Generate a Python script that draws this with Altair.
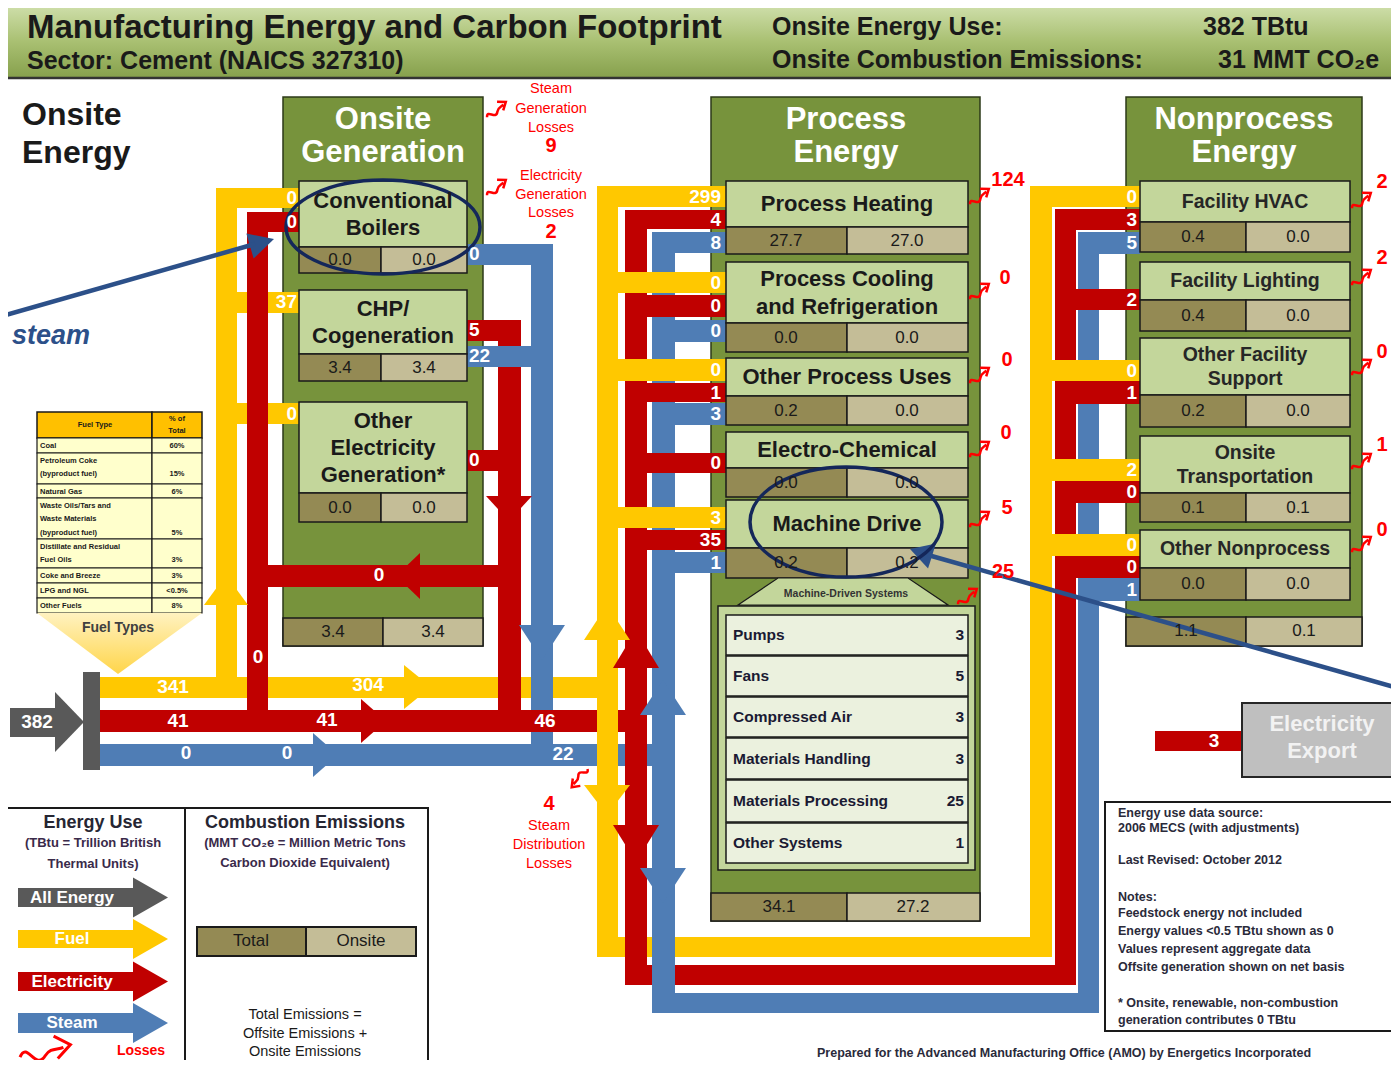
import math
import altair as alt
import pandas as pd

# ------------------------------------------------------------------
# Values
# ------------------------------------------------------------------
title_main = "Manufacturing Energy and Carbon Footprint"
title_sector = "Sector: Cement (NAICS 327310)"
onsite_energy_use = "382 TBtu"
onsite_emissions = "31 MMT CO₂e"

supply_total = 382
fuel_main = [341, 304]
elec_main = [41, 41, 46]
steam_main = [0, 0, 22]

gen_names = [["Conventional", "Boilers"], ["CHP/", "Cogeneration"],
             ["Other", "Electricity", "Generation*"]]
gen_total = ["0.0", "3.4", "0.0"]
gen_onsite = ["0.0", "3.4", "0.0"]
gen_fuel_in = [0, 37, 0]
gen_elec_in = 0
gen_elec_out = [5, 0]
gen_steam_out = [0, 22]
gen_elec_back = 0
gen_elec_side = 0
gen_sum = ["3.4", "3.4"]
steam_gen_loss = 9
elec_gen_loss = 2
steam_dist_loss = 4

proc_names = [["Process Heating"], ["Process Cooling", "and Refrigeration"],
              ["Other Process Uses"], ["Electro-Chemical"], ["Machine Drive"]]
proc_total = ["27.7", "0.0", "0.2", "0.0", "0.2"]
proc_onsite = ["27.0", "0.0", "0.0", "0.0", "0.2"]
proc_loss = [124, 0, 0, 0, 5]
proc_fuel = [299, 0, 0, None, 3]
proc_elec = [4, 0, 1, 0, 35]
proc_steam = [8, 0, 3, None, 1]
proc_sum = ["34.1", "27.2"]

md_names = ["Pumps", "Fans", "Compressed Air", "Materials Handling",
            "Materials Processing", "Other Systems"]
md_values = [3, 5, 3, 3, 25, 1]
md_loss = 25

non_names = [["Facility HVAC"], ["Facility Lighting"], ["Other Facility", "Support"],
             ["Onsite", "Transportation"], ["Other Nonprocess"]]
non_total = ["0.4", "0.4", "0.2", "0.1", "0.0"]
non_onsite = ["0.0", "0.0", "0.0", "0.1", "0.0"]
non_loss = [2, 2, 0, 1, 0]
non_fuel = [0, None, 0, 2, 0]
non_elec = [3, 2, 1, 0, 0]
non_steam = [5, None, None, None, 1]
non_sum = ["1.1", "0.1"]

elec_export = 3

fuel_types = [["Coal"], ["Petroleum Coke", "(byproduct fuel)"], ["Natural Gas"],
              ["Waste Oils/Tars and", "Waste Materials", "(byproduct fuel)"],
              ["Distillate and Residual", "Fuel Oils"], ["Coke and Breeze"],
              ["LPG and NGL"], ["Other Fuels"]]
fuel_shares = ["60%", "15%", "6%", "5%", "3%", "3%", "<0.5%", "8%"]

legend_arrows = ["All Energy", "Fuel", "Electricity", "Steam"]
notes_lines = ["Energy use data source:", "2006 MECS (with adjustments)", "",
               "Last Revised: October 2012", "", "Notes:",
               "Feedstock energy not included", "Energy values <0.5 TBtu shown as 0",
               "Values represent aggregate data", "Offsite generation shown on net basis",
               "", "* Onsite, renewable, non-combustion", "generation contributes 0 TBtu"]
footer = "Prepared for the Advanced Manufacturing Office (AMO) by Energetics Incorporated"

# ------------------------------------------------------------------
# Layout (diagram geometry, in reference pixel units)
# ------------------------------------------------------------------
SANS = "Liberation Sans, Arial, Helvetica, sans-serif"
DARK = "#1a1a1a"
YEL = "#ffc800"
RED = "#c00000"
BLU = "#4f7db5"
GRY = "#595959"
OLV = "#77933c"
LGR = "#c3d69b"
DKH = "#948a54"
LKH = "#c4bd97"
PNL = "#ebf1de"
NAVY = "#14275a"
ANAVY = "#2c5089"
LOSS = "#ff0000"
WHITE = "#ffffff"

GEN_X = (299, 381, 467)
GEN_ROWS = [(181, 247, 273), (290, 354, 381), (402, 493, 522)]
PROC_X = (726, 847, 968)
PROC_ROWS = [(181, 227, 254), (262, 323, 352), (358, 396, 425), (432, 468, 497), (500, 548, 578)]
NON_X = (1140, 1246, 1350)
NON_ROWS = [(181, 222, 252), (262, 300, 331), (338, 395, 427), (436, 493, 522), (530, 568, 600)]
MD_ROWS = [(615, 655), (656, 696), (697, 737), (738, 779), (780, 822), (823, 863)]

proc_fuel_y = [(186, 207), (272, 293), (359, 381), None, (507, 528)]
proc_elec_y = [(210, 229), (295, 317), (383, 402), (453, 473), (530, 550)]
proc_steam_y = [(232, 253), (320, 342), (403, 425), None, (552, 573)]
non_fuel_y = [(186, 207), None, (360, 381), (459, 481), (534, 556)]
non_elec_y = [(209, 230), (289, 310), (381, 404), (481, 503), (556, 578)]
non_steam_y = [(232, 254), None, None, None, (578, 601)]

proc_loss_xy = [(1008, 180), (1005, 278), (1007, 360), (1006, 433), (1007, 508)]
proc_squig_xy = [(981, 197), (981, 292), (981, 376), (981, 450), (981, 520)]
non_loss_xy = [(1382, 182), (1382, 258), (1382, 352), (1382, 445), (1382, 530)]
non_squig_xy = [(1363, 201), (1363, 278), (1363, 368), (1363, 462), (1363, 545)]

FUEL_ROWS = [(438, 453), (453, 484), (484, 498), (498, 539), (539, 568), (568, 583), (583, 598), (598, 613)]

rects, heads, outlines, rules = [], [], [], []
texts = {}


def rect(x1, y1, x2, y2, fill, stroke="transparent", sw=0):
    rects.append(dict(x=x1, y=y1, x2=x2, y2=y2, fill=fill, stroke=stroke, sw=sw))


def text(t, x, y, size, color=DARK, weight="bold", align="center", style="normal"):
    texts.setdefault((weight, align, style), []).append(
        dict(t=str(t), x=x, y=y, s=size, c=color))


def head(xb, yb, xt, yt, width, color):
    dx, dy = xt - xb, yt - yb
    length = math.hypot(dx, dy)
    ang = math.degrees(math.atan2(dy, dx)) % 360
    a = length / width
    heads.append(dict(x=(xb + xt) / 2, y=(yb + yt) / 2,
                      shape=f"M {-a:.3f} -1 L {a:.3f} 0 L {-a:.3f} 1 Z",
                      size=width ** 2, angle=ang, c=color))


SQUIG = ("M -1 0.15 C -0.75 -0.45 -0.45 0.65 -0.1 0.1 C 0.1 -0.2 0.3 -0.1 0.55 -0.2 "
         "M 0.2 -0.6 L 0.8 -0.3 L 0.35 0.2")


def squiggle(x, y, angle=335, length=26, sw=2.5):
    outlines.append(dict(x=x, y=y, shape=SQUIG, size=length ** 2, angle=angle, c=LOSS, w=sw))


def ellipse(cx, cy, rx, ry):
    r = ry / rx
    outlines.append(dict(x=cx, y=cy,
                         shape=f"M -1 0 A 1 {r:.3f} 0 1 1 1 0 A 1 {r:.3f} 0 1 1 -1 0",
                         size=(2 * rx) ** 2, angle=0, c=NAVY, w=3.5))


# ---- outer boxes
rect(283, 97, 483, 646, OLV, "#2d3a18", 1.5)
rect(711, 97, 980, 921, OLV, "#2d3a18", 1.5)
rect(1126, 97, 1362, 646, OLV, "#2d3a18", 1.5)

# ---- supply side
rect(10, 708, 58, 737, GRY)
head(55, 722, 84, 722, 60, GRY)
rect(83, 672, 100, 770, GRY)
rect(100, 677, 618, 698, YEL)
# onsite generation feeds
rect(216, 188, 237, 698, YEL)
rect(216, 188, 299, 208, YEL)
rect(216, 292, 299, 313, YEL)
rect(216, 403, 299, 424, YEL)
rect(247, 212, 268, 732, RED)
rect(247, 212, 299, 232, RED)
rect(247, 565, 521, 587, RED)
rect(467, 320, 521, 341, RED)
rect(498, 320, 521, 732, RED)
rect(467, 450, 498, 471, RED)
rect(531, 244, 553, 766, BLU)
rect(467, 244, 553, 265, BLU)
rect(467, 346, 531, 367, BLU)
rect(100, 710, 647, 732, RED)
rect(100, 744, 675, 766, BLU)

# ---- distribution loops
rect(597, 937, 1052, 957, YEL)
rect(625, 965, 1076, 985, RED)
rect(597, 186, 618, 957, YEL)
rect(1030, 186, 1052, 957, YEL)
rect(625, 210, 647, 985, RED)
rect(1055, 209, 1076, 985, RED)
rect(652, 993, 1099, 1013, BLU)
rect(652, 232, 675, 1013, BLU)
rect(1078, 232, 1099, 1013, BLU)

for i in range(5):
    for ys, x0, col in ((proc_steam_y[i], 652, BLU), (proc_elec_y[i], 625, RED), (proc_fuel_y[i], 597, YEL)):
        if ys:
            rect(x0, ys[0], PROC_X[0], ys[1], col)
for i in range(5):
    for ys, x0, col in ((non_steam_y[i], 1078, BLU), (non_elec_y[i], 1055, RED), (non_fuel_y[i], 1030, YEL)):
        if ys:
            rect(x0, ys[0], NON_X[0], ys[1], col)

rect(1155, 731, 1243, 751, RED)

# ---- sub boxes
for (a, b, c) in GEN_ROWS:
    rect(GEN_X[0], a, GEN_X[2], b, LGR, DARK, 1.5)
    rect(GEN_X[0], b, GEN_X[1], c, DKH, DARK, 1.5)
    rect(GEN_X[1], b, GEN_X[2], c, LKH, DARK, 1.5)
rect(283, 618, 383, 646, DKH, DARK, 1.5)
rect(383, 618, 483, 646, LKH, DARK, 1.5)

for (a, b, c) in PROC_ROWS:
    rect(PROC_X[0], a, PROC_X[2], b, LGR, DARK, 1.5)
    rect(PROC_X[0], b, PROC_X[1], c, DKH, DARK, 1.5)
    rect(PROC_X[1], b, PROC_X[2], c, LKH, DARK, 1.5)
rect(718, 606, 975, 870, LGR, DARK, 1.5)
for (a, b) in MD_ROWS:
    rect(726, a, 968, b, PNL, DARK, 1.5)
rect(711, 893, 847, 921, DKH, DARK, 1.5)
rect(847, 893, 980, 921, LKH, DARK, 1.5)

for (a, b, c) in NON_ROWS:
    rect(NON_X[0], a, NON_X[2], b, LGR, DARK, 1.5)
    rect(NON_X[0], b, NON_X[1], c, DKH, DARK, 1.5)
    rect(NON_X[1], b, NON_X[2], c, LKH, DARK, 1.5)
rect(1126, 617, 1246, 646, DKH, DARK, 1.5)
rect(1246, 617, 1362, 646, LKH, DARK, 1.5)

# ---- fuel table
rect(37, 412, 152, 438, "#ffc000", DARK, 1.5)
rect(152, 412, 202, 438, "#ffc000", DARK, 1.5)
for (a, b) in FUEL_ROWS:
    rect(37, a, 152, b, "#ffffcc", DARK, 1.2)
    rect(152, a, 202, b, "#ffffcc", DARK, 1.2)

# ---- legend
leg_y = [(888, 907), (930, 948), (972, 991), (1013, 1033)]
leg_c = [GRY, YEL, RED, BLU]
for (a, b), col in zip(leg_y, leg_c):
    rect(18, a, 134, b, col)
    head(133, (a + b) / 2, 168, (a + b) / 2, 40, col)
rect(197, 927, 306, 956, DKH, DARK, 2)
rect(306, 927, 416, 956, LKH, DARK, 2)
rect(6, 808, 428, 1078, "transparent", DARK, 2)
rect(184, 808, 186, 1078, DARK)
rect(1105, 802, 1410, 1031, "transparent", DARK, 2)

# ---- export box
rect(1242, 703, 1410, 777, "#bfbfbf", "#262626", 2)

# ---- flow arrowheads
head(404, 687, 431, 687, 44, YEL)
head(361, 721, 386, 721, 44, RED)
head(313, 755, 338, 755, 44, BLU)
head(226, 605, 226, 575, 44, YEL)
head(509, 496, 509, 521, 46, RED)
head(542, 625, 542, 660, 46, BLU)
head(420, 576, 396, 576, 46, RED)
head(607, 640, 607, 605, 46, YEL)
head(607, 785, 607, 815, 46, YEL)
head(636, 668, 636, 630, 46, RED)
head(636, 825, 636, 862, 46, RED)
head(663, 715, 663, 680, 46, BLU)
head(663, 868, 663, 903, 46, BLU)

# ---- annotation arrows and ellipses
ellipse(383, 227, 97, 47)
ellipse(846, 522, 96, 55)
rules.append(dict(x=-5, y=318, x2=255, y2=244))
rules.append(dict(x=1405, y=690, x2=928, y2=555))
head(250, 246, 274, 239, 26, ANAVY)
head(932, 556, 910, 549, 26, ANAVY)

# ---- loss squiggles
squiggle(498, 110)
squiggle(498, 188)
for (x, y) in proc_squig_xy:
    squiggle(x, y)
squiggle(969, 597)
for (x, y) in non_squig_xy:
    squiggle(x, y)
squiggle(578, 778, angle=145)
squiggle(48, 1053, angle=0, length=56, sw=3)

# ------------------------------------------------------------------
# Texts
# ------------------------------------------------------------------
text(title_main, 27, 28, 33, DARK, align="left")
text(title_sector, 27, 61, 25, DARK, align="left")
text("Onsite Energy Use:", 772, 27, 25, DARK, align="left")
text(onsite_energy_use, 1203, 27, 25, DARK, align="left")
text("Onsite Combustion Emissions:", 772, 60, 25, DARK, align="left")
text(onsite_emissions, 1218, 60, 25, DARK, align="left")

text("Onsite", 22, 115, 32, DARK, align="left")
text("Energy", 22, 153, 32, DARK, align="left")
text("steam", 90, 336, 27, ANAVY, align="right", style="italic")

# box titles
for lines, cx in ((["Onsite", "Generation"], 383), (["Process", "Energy"], 846), (["Nonprocess", "Energy"], 1244)):
    for k, ln in enumerate(lines):
        text(ln, cx, 120 + 33 * k, 31, WHITE)

# onsite generation
for names, (a, b, c), tv, ov in zip(gen_names, GEN_ROWS, gen_total, gen_onsite):
    n = len(names)
    mid = (a + b) / 2
    for k, ln in enumerate(names):
        text(ln, 383, mid + (k - (n - 1) / 2) * 27, 22)
    text(tv, 340, (b + c) / 2, 17, DARK, weight="normal")
    text(ov, 424, (b + c) / 2, 17, DARK, weight="normal")
text(gen_sum[0], 333, 632, 17, DARK, weight="normal")
text(gen_sum[1], 433, 632, 17, DARK, weight="normal")

# process
for names, (a, b, c), tv, ov in zip(proc_names, PROC_ROWS, proc_total, proc_onsite):
    n = len(names)
    mid = (a + b) / 2
    for k, ln in enumerate(names):
        text(ln, 847, mid + (k - (n - 1) / 2) * 28, 22)
    text(tv, 786, (b + c) / 2, 17, DARK, weight="normal")
    text(ov, 907, (b + c) / 2, 17, DARK, weight="normal")
text(proc_sum[0], 779, 907, 17, DARK, weight="normal")
text(proc_sum[1], 913, 907, 17, DARK, weight="normal")
text("Machine-Driven Systems", 846, 594, 10.5, "#333333")
for name, v, (a, b) in zip(md_names, md_values, MD_ROWS):
    text(name, 733, (a + b) / 2, 15.5, "#1a1a33", align="left")
    text(v, 964, (a + b) / 2, 15.5, "#1a1a33", align="right")

# nonprocess
for names, (a, b, c), tv, ov in zip(non_names, NON_ROWS, non_total, non_onsite):
    n = len(names)
    mid = (a + b) / 2
    for k, ln in enumerate(names):
        text(ln, 1245, mid + (k - (n - 1) / 2) * 24, 19.5, "#262626")
    text(tv, 1193, (b + c) / 2, 17, DARK, weight="normal")
    text(ov, 1298, (b + c) / 2, 17, DARK, weight="normal")
text(non_sum[0], 1186, 631, 17, DARK, weight="normal")
text(non_sum[1], 1304, 631, 17, DARK, weight="normal")

# flow labels
text(supply_total, 37, 722, 19, WHITE)
text(fuel_main[0], 173, 687, 19, WHITE)
text(fuel_main[1], 368, 685, 19, WHITE)
text(elec_main[0], 178, 721, 19, WHITE)
text(elec_main[1], 327, 720, 19, WHITE)
text(elec_main[2], 545, 721, 19, WHITE)
text(steam_main[0], 186, 753, 19, WHITE)
text(steam_main[1], 287, 753, 19, WHITE)
text(steam_main[2], 563, 754, 19, WHITE)
for v, y in zip(gen_fuel_in, (198, 302, 414)):
    text(v, 297, y, 19, WHITE, align="right")
text(gen_elec_in, 297, 222, 19, WHITE, align="right")
text(gen_steam_out[0], 469, 254, 19, WHITE, align="left")
text(gen_elec_out[0], 469, 330, 19, WHITE, align="left")
text(gen_steam_out[1], 469, 356, 19, WHITE, align="left")
text(gen_elec_out[1], 469, 460, 19, WHITE, align="left")
text(gen_elec_back, 379, 575, 19, WHITE)
text(gen_elec_side, 258, 657, 19, WHITE)
for vals, ys_list in ((proc_fuel, proc_fuel_y), (proc_elec, proc_elec_y), (proc_steam, proc_steam_y)):
    for v, ys in zip(vals, ys_list):
        if v is not None and ys:
            text(v, 721, (ys[0] + ys[1]) / 2, 19, WHITE, align="right")
for vals, ys_list in ((non_fuel, non_fuel_y), (non_elec, non_elec_y), (non_steam, non_steam_y)):
    for v, ys in zip(vals, ys_list):
        if v is not None and ys:
            text(v, 1137, (ys[0] + ys[1]) / 2, 19, WHITE, align="right")
text(elec_export, 1214, 741, 19, WHITE)
text("Electricity", 1322, 724, 22, "#f2f2f2")
text("Export", 1322, 751, 22, "#f2f2f2")

# losses
for v, (x, y) in zip(proc_loss, proc_loss_xy):
    text(v, x, y, 20, LOSS)
text(md_loss, 1003, 572, 20, LOSS)
for v, (x, y) in zip(non_loss, non_loss_xy):
    text(v, x, y, 20, LOSS)
for k, ln in enumerate(["Steam", "Generation", "Losses"]):
    text(ln, 551, 89 + 19.5 * k, 14.5, LOSS, weight="normal")
text(steam_gen_loss, 551, 146, 20, LOSS)
for k, ln in enumerate(["Electricity", "Generation", "Losses"]):
    text(ln, 551, 176 + 18.5 * k, 14.5, LOSS, weight="normal")
text(elec_gen_loss, 551, 232, 20, LOSS)
text(steam_dist_loss, 549, 804, 20, LOSS)
for k, ln in enumerate(["Steam", "Distribution", "Losses"]):
    text(ln, 549, 826 + 19 * k, 14.5, LOSS, weight="normal")

# fuel table
text("Fuel Type", 95, 425, 7.5)
text("% of", 177, 419, 7.5)
text("Total", 177, 431, 7.5)
for names, share, (a, b) in zip(fuel_types, fuel_shares, FUEL_ROWS):
    n = len(names)
    for k, ln in enumerate(names):
        text(ln, 40, a + 7.5 + k * 13.5, 7.5, align="left")
    text(share, 177, a + 7.5 + (n - 1) * 13.5, 7.5)
text("Fuel Types", 118, 628, 14, "#404040")

# legend
text("Energy Use", 93, 823, 18, "#262633")
text("(TBtu = Trillion British", 93, 843, 13, "#3a2a4a")
text("Thermal Units)", 93, 864, 13, "#3a2a4a")
for name, (a, b) in zip(legend_arrows, leg_y):
    text(name, 72, (a + b) / 2, 17, WHITE)
text("Losses", 141, 1051, 14, LOSS)
text("Combustion Emissions", 305, 823, 18, "#262633")
text("(MMT CO₂e = Million Metric Tons", 305, 843, 13, "#3a2a4a")
text("Carbon Dioxide Equivalent)", 305, 863, 13, "#3a2a4a")
text("Total", 251, 941, 17, DARK, weight="normal")
text("Onsite", 361, 941, 17, DARK, weight="normal")
for k, ln in enumerate(["Total Emissions =", "Offsite Emissions +", "Onsite Emissions"]):
    text(ln, 305, 1015 + 18.5 * k, 14.5, DARK, weight="normal")

# notes
ny = [813, 828, None, 860, None, 897, 913, 931, 949, 967, None, 1003, 1020]
for ln, y in zip(notes_lines, ny):
    if ln and y:
        text(ln, 1118, y, 12.5, "#2a2a3a", align="left")
text(footer, 817, 1053, 12.5, "#2a2a3a", align="left")

# ------------------------------------------------------------------
# Chart
# ------------------------------------------------------------------
XS = alt.Scale(domain=[8, 1391], nice=False, zero=False)
YS = alt.Scale(domain=[8, 1060], nice=False, zero=False, reverse=True)


def XQ(f):
    return alt.X(f + ":Q", scale=XS, axis=None)


def YQ(f):
    return alt.Y(f + ":Q", scale=YS, axis=None)


layers = []

hdr = pd.DataFrame([dict(x=5, x2=1405, y=5, y2=78)])
layers.append(alt.Chart(hdr).mark_rect(
    fill=alt.LinearGradient(gradient="linear", x1=0, x2=0, y1=0, y2=1,
                            stops=[alt.GradientStop(color="#cfdfab", offset=0),
                                   alt.GradientStop(color="#a9c072", offset=0.5),
                                   alt.GradientStop(color="#86a04c", offset=1)]),
    stroke="#333333", strokeWidth=2.5).encode(
    x=XQ("x"), x2=alt.X2("x2:Q"), y=YQ("y"), y2=alt.Y2("y2:Q")))

layers.append(alt.Chart(pd.DataFrame(rects)).mark_rect().encode(
    x=XQ("x"), x2=alt.X2("x2:Q"), y=YQ("y"), y2=alt.Y2("y2:Q"),
    fill=alt.Fill("fill:N", scale=None),
    stroke=alt.Stroke("stroke:N", scale=None),
    strokeWidth=alt.StrokeWidth("sw:Q", scale=None)))

funnel = pd.DataFrame(dict(x=[37, 118, 202], y=[613, 613, 613], y2=[613, 674, 613]))
layers.append(alt.Chart(funnel).mark_area(
    orient="vertical",
    fill=alt.LinearGradient(gradient="linear", x1=0, x2=0, y1=0, y2=1,
                            stops=[alt.GradientStop(color="#fff2c0", offset=0),
                                   alt.GradientStop(color="#ffd54a", offset=1)])).encode(
    x=XQ("x"), y=YQ("y"), y2=alt.Y2("y2:Q")))

trap = pd.DataFrame(dict(x=[738, 778, 908, 948], y=[605, 578, 578, 605], y2=[605, 605, 605, 605]))
layers.append(alt.Chart(trap).mark_area(orient="vertical", fill=LGR, stroke=DARK, strokeWidth=1.2).encode(
    x=XQ("x"), y=YQ("y"), y2=alt.Y2("y2:Q")))

layers.append(alt.Chart(pd.DataFrame(heads)).mark_point(filled=True, opacity=1, strokeWidth=0).encode(
    x=XQ("x"), y=YQ("y"),
    shape=alt.Shape("shape:N", scale=None),
    size=alt.Size("size:Q", scale=None),
    angle=alt.Angle("angle:Q", scale=None),
    color=alt.Color("c:N", scale=None)))

layers.append(alt.Chart(pd.DataFrame(rules)).mark_rule(color=ANAVY, strokeWidth=4.5).encode(
    x=XQ("x"), y=YQ("y"), x2=alt.X2("x2:Q"), y2=alt.Y2("y2:Q")))

layers.append(alt.Chart(pd.DataFrame(outlines)).mark_point(filled=False, opacity=1).encode(
    x=XQ("x"), y=YQ("y"),
    shape=alt.Shape("shape:N", scale=None),
    size=alt.Size("size:Q", scale=None),
    angle=alt.Angle("angle:Q", scale=None),
    color=alt.Color("c:N", scale=None),
    strokeWidth=alt.StrokeWidth("w:Q", scale=None)))

for (weight, align, style), rows in texts.items():
    layers.append(alt.Chart(pd.DataFrame(rows)).mark_text(
        font=SANS, fontWeight=weight, align=align, baseline="middle", fontStyle=style).encode(
        x=XQ("x"), y=YQ("y"), text="t:N",
        size=alt.Size("s:Q", scale=None),
        color=alt.Color("c:N", scale=None)))

chart = alt.layer(*layers).properties(
    width=1383, height=1052, padding=0,
    autosize=alt.AutoSizeParams(type="none"),
    background="white",
).configure_view(strokeWidth=0)

chart.save("out.html", embed_options={"renderer": "svg", "actions": False})
